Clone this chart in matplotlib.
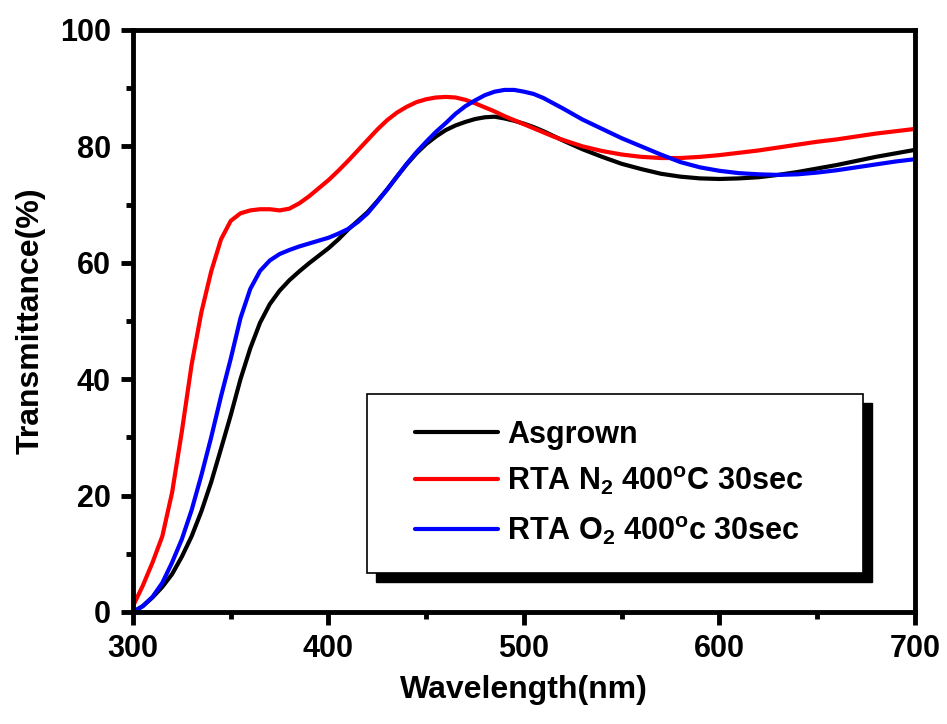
import matplotlib
matplotlib.use("Agg")
import matplotlib.pyplot as plt
from matplotlib.patches import Rectangle
from matplotlib.ticker import MultipleLocator


# wavelength (nm) and transmittance (%)
wavelength = [300, 305, 310, 315, 320, 325, 330, 335, 340, 345, 350, 355, 360, 365,
              370, 375, 380, 385, 390, 395, 400, 405, 410, 415, 420, 425, 430, 435,
              440, 445, 450, 455, 460, 465, 470, 475, 480, 485, 490, 495, 500, 505,
              510, 515, 520, 530, 540, 550, 560, 570, 580, 590, 600, 610, 620, 630,
              640, 650, 660, 670, 680, 690, 700]

asgrown = [0.0, 1.0, 2.5, 4.3, 6.5, 9.5, 13.0, 17.3, 22.3, 28.0, 33.8, 40.0, 45.3, 49.7,
           52.9, 55.2, 57.0, 58.5, 59.9, 61.2, 62.5, 64.0, 65.7, 67.2, 68.7, 70.6, 72.6, 74.8,
           76.9, 78.8, 80.4, 81.7, 82.8, 83.6, 84.2, 84.7, 85.0, 85.1, 84.8, 84.4, 83.9, 83.3,
           82.6, 81.8, 81.0, 79.5, 78.2, 77.0, 76.1, 75.3, 74.8, 74.5, 74.4, 74.5, 74.7, 75.1,
           75.6, 76.2, 76.8, 77.5, 78.2, 78.8, 79.4]

rta_n2 = [1.0, 4.5, 8.5, 13.0, 20.5, 31.0, 42.5, 51.5, 58.5, 64.0, 67.2, 68.5, 69.0, 69.2,
          69.2, 69.0, 69.3, 70.2, 71.4, 72.8, 74.2, 75.8, 77.5, 79.3, 81.1, 82.9, 84.5, 85.8,
          86.8, 87.6, 88.1, 88.4, 88.5, 88.4, 88.0, 87.4, 86.7, 86.0, 85.2, 84.5, 83.8, 83.1,
          82.4, 81.7, 81.1, 80.0, 79.2, 78.6, 78.2, 78.0, 78.0, 78.2, 78.5, 78.9, 79.3, 79.8,
          80.3, 80.8, 81.2, 81.7, 82.2, 82.6, 83.0]

rta_o2 = [0.0, 1.0, 2.6, 5.0, 8.5, 12.5, 17.5, 23.5, 30.0, 37.0, 43.5, 50.5, 55.5, 58.6,
          60.4, 61.5, 62.2, 62.8, 63.3, 63.8, 64.3, 65.0, 65.8, 67.0, 68.5, 70.5, 72.6, 74.8,
          77.0, 79.0, 80.8, 82.5, 84.0, 85.6, 86.9, 87.9, 88.8, 89.4, 89.7, 89.7, 89.4, 89.0,
          88.3, 87.4, 86.5, 84.6, 83.0, 81.4, 80.0, 78.6, 77.3, 76.4, 75.8, 75.4, 75.2, 75.1,
          75.2, 75.5, 75.9, 76.4, 76.9, 77.4, 77.8]

labels = ["Asgrown",
          r"RTA N$_{2}$ 400$^{o}$C 30sec",
          r"RTA O$_{2}$ 400$^{o}$c 30sec"]
colors = ["black", "red", "blue"]


def main():
    plt.rcParams["font.family"] = ["Liberation Sans", "DejaVu Sans"]
    plt.rcParams["font.weight"] = "bold"
    plt.rcParams["mathtext.fontset"] = "custom"
    plt.rcParams["mathtext.rm"] = "Liberation Sans:bold"
    plt.rcParams["mathtext.it"] = "Liberation Sans:bold"
    plt.rcParams["mathtext.bf"] = "Liberation Sans:bold"
    plt.rcParams["mathtext.default"] = "rm"

    fig = plt.figure(figsize=(9.47, 7.24), dpi=100)
    ax = fig.add_axes([0.1404, 0.1547, 0.8258, 0.8039])

    for series, color in zip([asgrown, rta_n2, rta_o2], colors):
        ax.plot(wavelength, series, color=color, lw=3.0,
                solid_capstyle="round", solid_joinstyle="round")

    ax.set_xlim(300, 700)
    ax.set_ylim(0, 100)
    ax.xaxis.set_major_locator(MultipleLocator(100))
    ax.xaxis.set_minor_locator(MultipleLocator(50))
    ax.yaxis.set_major_locator(MultipleLocator(20))
    ax.yaxis.set_minor_locator(MultipleLocator(10))

    for spine in ax.spines.values():
        spine.set_linewidth(3.5)
    ax.tick_params(which="major", direction="out", length=9, width=3.5, pad=7, labelsize=22)
    ax.tick_params(which="minor", direction="out", length=5, width=3.5)
    for lab in ax.get_xticklabels() + ax.get_yticklabels():
        lab.set_fontweight("bold")

    ax.set_xlabel("Wavelength(nm)", fontsize=23, fontweight="bold", labelpad=8)
    ax.set_ylabel("Transmittance(%)", fontsize=23, fontweight="bold", labelpad=10)

    # legend box with black drop shadow, drawn by hand
    x0, y0, w, h = 0.299, 0.067, 0.6345, 0.3076
    dx, dy = 9 / 782, 9 / 582
    ax.add_patch(Rectangle((x0 + dx, y0 - dy), w, h, transform=ax.transAxes,
                           facecolor="black", edgecolor="black", zorder=5))
    ax.add_patch(Rectangle((x0, y0), w, h, transform=ax.transAxes,
                           facecolor="white", edgecolor="black", lw=1.2, zorder=6))

    line_y = [0.3093, 0.2285, 0.1426]
    for label, color, yy in zip(labels, colors, line_y):
        ax.plot([0.3606, 0.4668], [yy, yy], transform=ax.transAxes, color=color,
                lw=3.0, solid_capstyle="round", zorder=7)
        ax.text(0.478, yy - 0.019, label, transform=ax.transAxes, fontsize=22,
                fontweight="bold", va="baseline", ha="left", zorder=7)

    fig.savefig("out.png", dpi=100)
    plt.close(fig)


if __name__ == "__main__":
    main()
